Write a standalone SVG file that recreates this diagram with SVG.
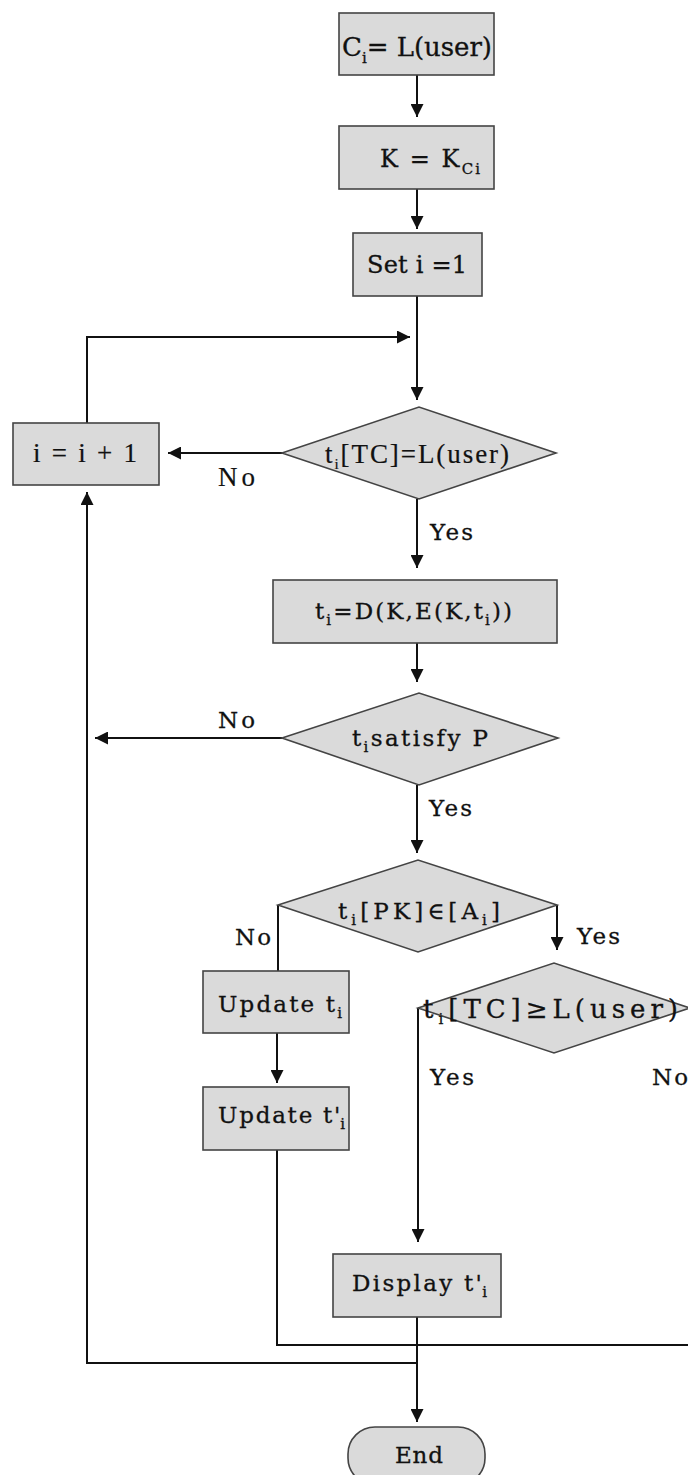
<svg xmlns="http://www.w3.org/2000/svg" width="688" height="1475" viewBox="0 0 688 1475">
  <defs>
    <style>
      .shape { fill: #dadada; stroke: #444; stroke-width: 1.6; }
      .wire { fill: none; stroke: #111; stroke-width: 2; }
      .pal { font-family: "DejaVu Serif", "Liberation Serif", serif; font-size: 23px; fill: #111; stroke: #111; stroke-width: 0.3; }
      .tms { font-family: "Liberation Serif", "DejaVu Serif", serif; font-size: 27px; fill: #111; stroke: #111; stroke-width: 0.2; }
      .big { font-size: 26px; }
      .mid { font-size: 24px; }
      .sub { font-size: 15px; }
    </style>
    <marker id="arrow" viewBox="0 0 10 10" refX="10" refY="5" markerUnits="userSpaceOnUse" markerWidth="13" markerHeight="13" orient="auto">
      <path d="M0,0 L10,5 L0,10 z" fill="#111"/>
    </marker>
  </defs>
  <rect width="688" height="1475" fill="#fff"/>

  <!-- connectors -->
  <g id="connectors">
    <path class="wire" d="M417,75 V117" marker-end="url(#arrow)"/>
    <path class="wire" d="M417,189 V229" marker-end="url(#arrow)"/>
    <path class="wire" d="M417,296 V400" marker-end="url(#arrow)"/>
    <path class="wire" d="M87,423 V337 H410" marker-end="url(#arrow)"/>
    <path class="wire" d="M282,453 H168" marker-end="url(#arrow)"/>
    <path class="wire" d="M417,499 V568" marker-end="url(#arrow)"/>
    <path class="wire" d="M417,643 V682" marker-end="url(#arrow)"/>
    <path class="wire" d="M282,738 H95" marker-end="url(#arrow)"/>
    <path class="wire" d="M417,785 V853" marker-end="url(#arrow)"/>
    <path class="wire" d="M278,905 V971"/>
    <path class="wire" d="M557,905 V950" marker-end="url(#arrow)"/>
    <path class="wire" d="M277,1033 V1083" marker-end="url(#arrow)"/>
    <path class="wire" d="M277,1150 V1345 H690"/>
    <path class="wire" d="M418,1008 V1242" marker-end="url(#arrow)"/>
    <path class="wire" d="M417,1317 V1422" marker-end="url(#arrow)"/>
    <path class="wire" d="M417,1363 H87 V492" marker-end="url(#arrow)"/>

    <text class="tms" x="218" y="486" textLength="37" lengthAdjust="spacing">No</text>
    <text class="pal" x="430" y="540" textLength="43" lengthAdjust="spacing">Yes</text>
    <text class="pal" x="218" y="728" textLength="37" lengthAdjust="spacing">No</text>
    <text class="pal" x="429" y="816" textLength="43" lengthAdjust="spacing">Yes</text>
    <text class="pal" x="235" y="945" textLength="36" lengthAdjust="spacing">No</text>
    <text class="pal" x="577" y="944" textLength="43" lengthAdjust="spacing">Yes</text>
    <text class="pal" x="430" y="1085" textLength="44" lengthAdjust="spacing">Yes</text>
    <text class="pal" x="652" y="1085" textLength="36" lengthAdjust="spacing">No</text>
  </g>

  <g id="n-level">
    <rect class="shape" x="339" y="13" width="155" height="62"/>
    <text class="pal big" x="342" y="56" textLength="150" lengthAdjust="spacing">C<tspan class="sub" dy="7">i</tspan><tspan dy="-7">= L(user)</tspan></text>
  </g>

  <g id="n-key">
    <rect class="shape" x="339" y="126" width="155" height="63"/>
    <text class="pal mid" x="380" y="167" textLength="100" lengthAdjust="spacing">K = K<tspan class="sub" dy="7">Ci</tspan></text>
  </g>

  <g id="n-init">
    <rect class="shape" x="353" y="233" width="129" height="63"/>
    <text class="pal mid" x="367" y="273" textLength="100" lengthAdjust="spacing">Set i =1</text>
  </g>

  <g id="n-inc">
    <rect class="shape" x="13" y="423" width="146" height="62"/>
    <text class="tms" x="33" y="462" textLength="104" lengthAdjust="spacing">i = i + 1</text>
  </g>

  <g id="n-check-level">
    <polygon class="shape" points="282,453 419,407 556,453 419,499"/>
    <text class="tms" x="325" y="463" textLength="184" lengthAdjust="spacing">t<tspan class="sub" dy="6">i</tspan><tspan dy="-6">[TC]=L(user)</tspan></text>
  </g>

  <g id="n-decrypt">
    <rect class="shape" x="273" y="580" width="284" height="63"/>
    <text class="pal" x="315" y="619" textLength="197" lengthAdjust="spacing">t<tspan class="sub" dy="6">i</tspan><tspan dy="-6">=D(K,E(K,t</tspan><tspan class="sub" dy="6">i</tspan><tspan dy="-6">))</tspan></text>
  </g>

  <g id="n-predicate">
    <polygon class="shape" points="282,738 419,693 558,738 419,785"/>
    <text class="pal" x="352" y="746" textLength="136" lengthAdjust="spacing">t<tspan class="sub" dy="6">i</tspan><tspan dy="-6">satisfy P</tspan></text>
  </g>

  <g id="n-key-in-set">
    <polygon class="shape" points="278,905 418,860 557,905 418,952"/>
    <text class="pal" x="338" y="919" textLength="162" lengthAdjust="spacing">t<tspan class="sub" dy="6">i</tspan><tspan dy="-6">[PK]∈[A</tspan><tspan class="sub" dy="6">i</tspan><tspan dy="-6">]</tspan></text>
  </g>

  <g id="n-update">
    <rect class="shape" x="203" y="971" width="146" height="62"/>
    <text class="pal" x="218" y="1012" textLength="124" lengthAdjust="spacing">Update t<tspan class="sub" dy="6">i</tspan></text>
  </g>

  <g id="n-update-prime">
    <rect class="shape" x="203" y="1087" width="146" height="63"/>
    <text class="pal" x="218" y="1123" textLength="127" lengthAdjust="spacing">Update t'<tspan class="sub" dx="-2" dy="6">i</tspan></text>
  </g>

  <g id="n-check-dominance">
    <polygon class="shape" points="418,1008 554,963 690,1008 554,1053"/>
    <text class="pal big" x="423" y="1018" textLength="255" lengthAdjust="spacing">t<tspan class="sub" dy="6">i</tspan><tspan dy="-6">[TC]≥L(user)</tspan></text>
  </g>

  <g id="n-display">
    <rect class="shape" x="333" y="1254" width="168" height="63"/>
    <text class="pal" x="352" y="1291" textLength="135" lengthAdjust="spacing">Display t'<tspan class="sub" dx="-2" dy="6">i</tspan></text>
  </g>

  <g id="n-end">
    <rect class="shape" x="348" y="1427" width="137" height="58" rx="27" ry="27"/>
    <text class="pal" x="395" y="1463" textLength="48" lengthAdjust="spacing">End</text>
  </g>
</svg>
